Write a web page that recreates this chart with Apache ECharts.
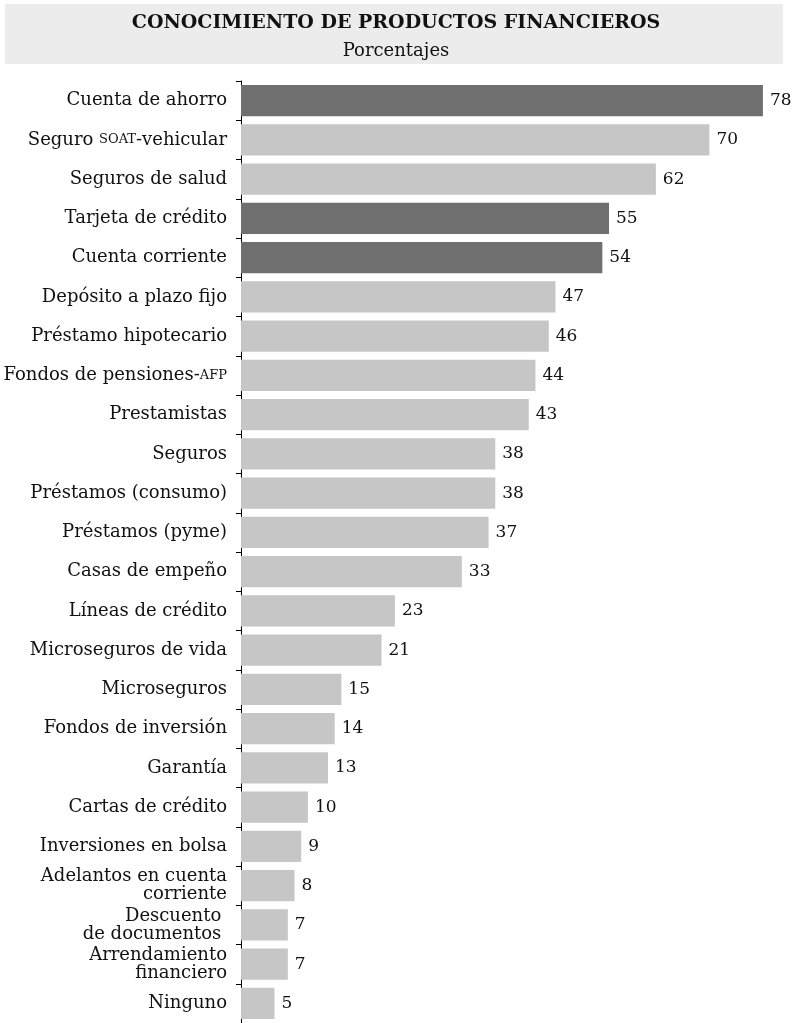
<!DOCTYPE html>
<html><head><meta charset="utf-8">
<script src="https://cdn.jsdelivr.net/npm/echarts@6/dist/echarts.min.js"></script>
<style>html,body{margin:0;padding:0;background:#fff}#c{width:792px;height:1023px}</style>
</head><body><div id="c"></div>
<script>
const categories = [
  "Cuenta de ahorro","Seguro {sc|SOAT}-vehicular","Seguros de salud","Tarjeta de crédito",
  "Cuenta corriente","Depósito a plazo fijo","Préstamo hipotecario","Fondos de pensiones-{sc|AFP}",
  "Prestamistas","Seguros","Préstamos (consumo)","Préstamos (pyme)","Casas de empeño",
  "Líneas de crédito","Microseguros de vida","Microseguros","Fondos de inversión","Garantía",
  "Cartas de crédito","Inversiones en bolsa","Adelantos en cuenta\ncorriente",
  "Descuento \nde documentos ","Arrendamiento\nfinanciero","Ninguno"
];
const values = [78,70,62,55,54,47,46,44,43,38,38,37,33,23,21,15,14,13,10,9,8,7,7,5];
const highlighted = [true,false,false,true,true,false,false,false,false,false,false,false,false,false,false,false,false,false,false,false,false,false,false,false];
const titleText = "CONOCIMIENTO DE PRODUCTOS FINANCIEROS";
const subtitleText = "Porcentajes";

const FONT = "DejaVu Serif";
const chart = echarts.init(document.getElementById('c'));
chart.setOption({
  animation: false,
  graphic: [{type:'rect', shape:{x:5,y:4,width:778,height:60}, style:{fill:'#ececec'}, z:-1}],
  title: {
    text: titleText, subtext: subtitleText, left: 'center', top: 9, itemGap: 9,
    textStyle: {fontFamily: FONT, fontWeight: 'bold', fontSize: 19, color: '#111'},
    subtextStyle: {fontFamily: FONT, fontSize: 18, color: '#111'}
  },
  grid: {left: 241, right: 9, top: 81, bottom: -2, containLabel: false},
  xAxis: {type: 'value', min: 0, max: 81, show: false},
  yAxis: {
    type: 'category', inverse: true, data: categories,
    axisLine: {show: true, lineStyle: {color: '#000', width: 1}},
    axisTick: {show: true, length: 5, inside: false, lineStyle: {color: '#000'}},
    axisLabel: {
      margin: 14, fontFamily: FONT, fontSize: 18, color: '#111', lineHeight: 18, align: 'right',
      rich: {sc: {fontFamily: FONT, fontSize: 13, color: '#111'}}
    }
  },
  series: [{
    type: 'bar', barCategoryGap: '21%',
    data: values.map((v,i)=>({value:v, itemStyle:{color: highlighted[i] ? '#6f6f6f' : '#c6c6c6'}})),
    label: {show: true, position: 'right', distance: 7, fontFamily: FONT, fontSize: 17, color: '#111'}
  }]
});
</script></body></html>
